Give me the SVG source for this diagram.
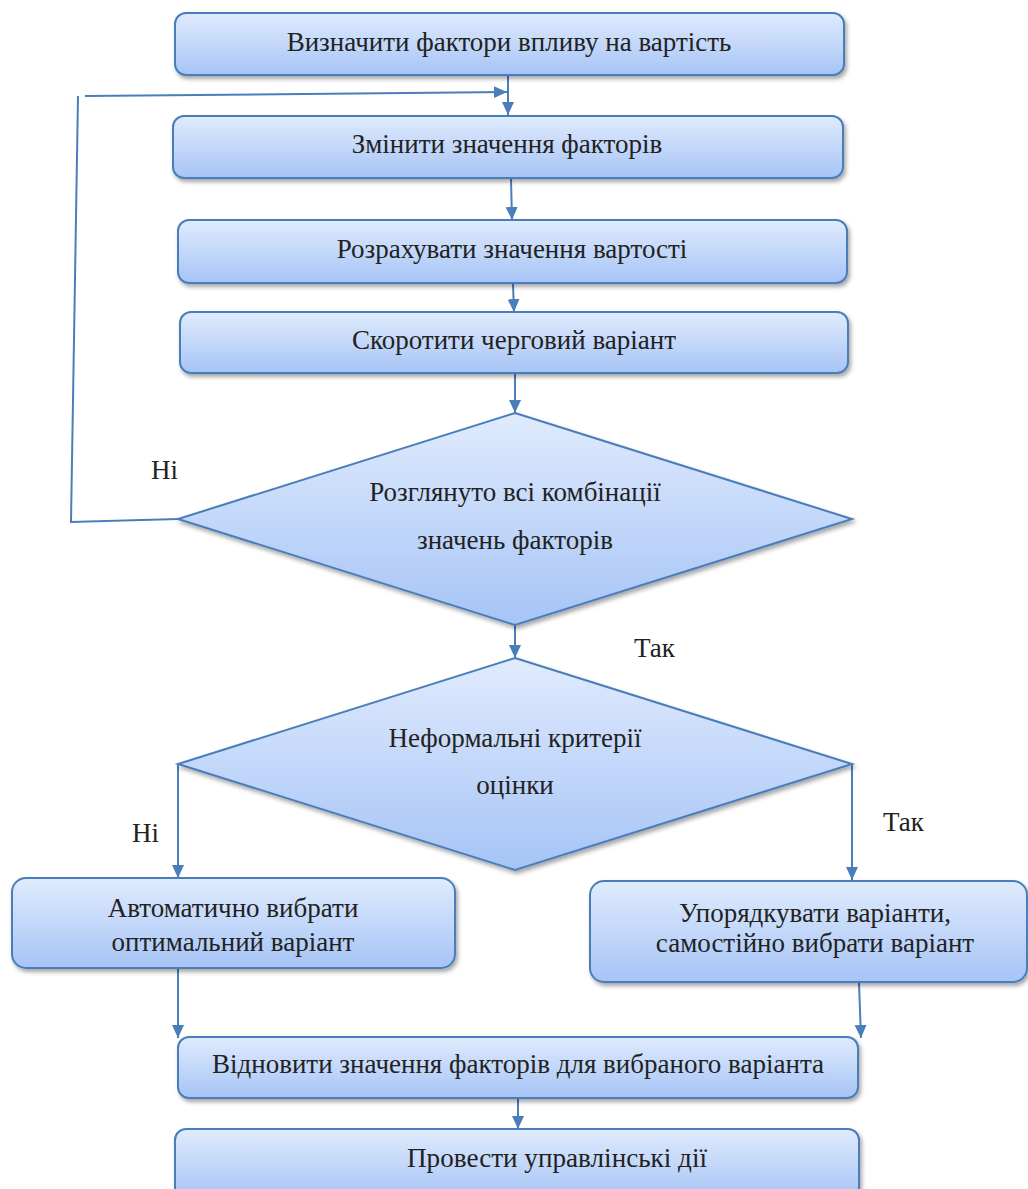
<svg xmlns="http://www.w3.org/2000/svg" width="1028" height="1189" viewBox="0 0 1028 1189">
<defs>
<linearGradient id="g" x1="0" y1="0" x2="0" y2="1">
<stop offset="0" stop-color="#e0ebfd"/>
<stop offset="1" stop-color="#a6c4f6"/>
</linearGradient>
<filter id="sh" x="-5%" y="-10%" width="112%" height="130%">
<feDropShadow dx="2" dy="3" stdDeviation="2" flood-color="#000" flood-opacity="0.35"/>
</filter>
<marker id="ar" markerUnits="userSpaceOnUse" markerWidth="14" markerHeight="14" viewBox="0 0 14 14" refX="13" refY="7" orient="auto">
<path d="M0,1 L13,7 L0,13 Z" fill="#4a7ebb"/>
</marker>
<style>
.b{fill:url(#g);stroke:#4a7ebb;stroke-width:2;filter:url(#sh)}
.c{fill:none;stroke:#4a7ebb;stroke-width:2}
.t{font-family:"Liberation Serif","Times New Roman",serif;font-size:27px;fill:#222;text-anchor:middle}
.l{font-family:"Liberation Serif","Times New Roman",serif;font-size:27px;fill:#222}
</style>
</defs>
<rect width="1028" height="1189" fill="#fff"/>
<g id="connectors">
<line class="c" x1="508" y1="75" x2="508" y2="115" marker-end="url(#ar)"/>
<polyline class="c" points="178,519 71,522 78,96"/>
<line class="c" x1="85" y1="96" x2="507" y2="92" marker-end="url(#ar)"/>
<line class="c" x1="511" y1="179" x2="512" y2="220" marker-end="url(#ar)"/>
<line class="c" x1="513" y1="284" x2="514" y2="312" marker-end="url(#ar)"/>
<line class="c" x1="515" y1="374" x2="515" y2="413" marker-end="url(#ar)"/>
<line class="c" x1="515" y1="625" x2="515" y2="658" marker-end="url(#ar)"/>
<polyline class="c" points="178,764 178,878" marker-end="url(#ar)"/>
<polyline class="c" points="852,764 852,880" marker-end="url(#ar)"/>
<line class="c" x1="178" y1="969" x2="178" y2="1038" marker-end="url(#ar)"/>
<line class="c" x1="859" y1="983" x2="861" y2="1038" marker-end="url(#ar)"/>
<line class="c" x1="518" y1="1099" x2="518" y2="1129" marker-end="url(#ar)"/>
</g>
<g id="n1"><rect class="b" x="175" y="13" width="669" height="62" rx="11"/><text class="t" x="509" y="51">Визначити фактори впливу на вартість</text></g>
<g id="n2"><rect class="b" x="173" y="116" width="670" height="62" rx="11"/><text class="t" x="507" y="153">Змінити значення факторів</text></g>
<g id="n3"><rect class="b" x="178" y="220" width="669" height="63" rx="11"/><text class="t" x="512" y="258">Розрахувати значення вартості</text></g>
<g id="n4"><rect class="b" x="180" y="312" width="668" height="61" rx="11"/><text class="t" x="514" y="349">Скоротити черговий варіант</text></g>
<g id="d1"><polygon class="b" points="515,413 852,519 515,625 178,519"/><text class="t" x="515" y="501">Розглянуто всі комбінації</text><text class="t" x="515" y="549">значень факторів</text></g>
<g id="d2"><polygon class="b" points="515,658 852,764 515,870 178,764"/><text class="t" x="515" y="747">Неформальні критерії</text><text class="t" x="515" y="794">оцінки</text></g>
<g id="n5"><rect class="b" x="12" y="878" width="443" height="90" rx="14"/><text class="t" x="233" y="917">Автоматично вибрати</text><text class="t" x="233" y="951">оптимальний варіант</text></g>
<g id="n6"><rect class="b" x="590" y="881" width="437" height="101" rx="14"/><text class="t" x="815" y="922">Упорядкувати варіанти,</text><text class="t" x="815" y="952">самостійно вибрати варіант</text></g>
<g id="n7"><rect class="b" x="178" y="1037" width="680" height="61" rx="11"/><text class="t" x="518" y="1073">Відновити значення факторів для вибраного варіанта</text></g>
<g id="n8"><rect class="b" x="175" y="1129" width="684" height="70" rx="11"/><text class="t" x="557" y="1167" style="font-size:28px" textLength="300" lengthAdjust="spacingAndGlyphs">Провести управлінські дії</text></g>
<g id="labels">
<text class="l" x="151" y="479">Ні</text>
<text class="l" x="634" y="657">Так</text>
<text class="l" x="132" y="842">Ні</text>
<text class="l" x="883" y="831">Так</text>
</g>
</svg>
